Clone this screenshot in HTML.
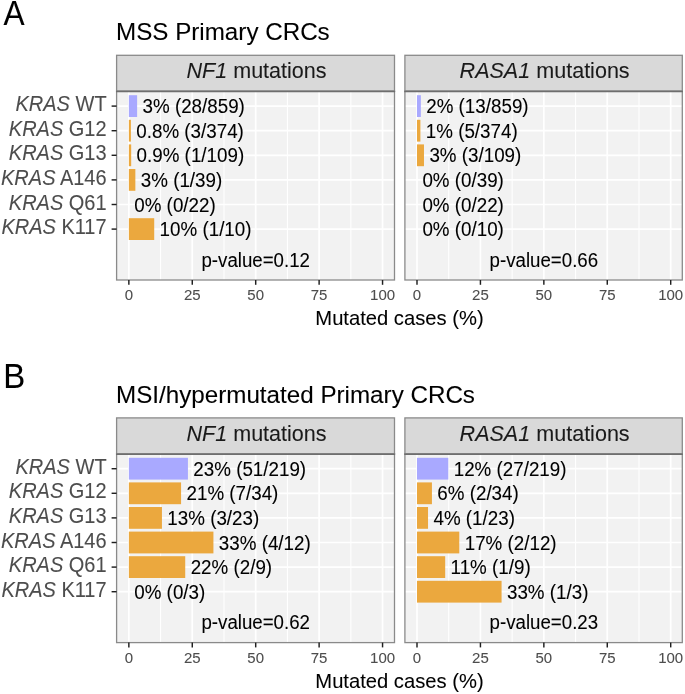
<!DOCTYPE html>
<html><head><meta charset="utf-8"><style>
html,body{margin:0;padding:0;background:#fff;}
svg{display:block;font-family:"Liberation Sans", sans-serif;will-change:transform;}
</style></head><body>
<svg width="685" height="694" viewBox="0 0 685 694">
<rect width="685" height="694" fill="#fff"/>
<text transform="translate(3.6,25.4) scale(0.930,1.020)" font-size="34.0" fill="#000" stroke="#000" stroke-width="0.08">A</text>
<text transform="translate(116,39.7) scale(1.000,1.020)" font-size="24.2" fill="#000" stroke="#000" stroke-width="0.08">MSS Primary CRCs</text>
<rect x="116.6" y="55.3" width="277.9" height="35.9" fill="#d9d9d9" stroke="#8a8a8a" stroke-width="1.3"/>
<text transform="translate(256.55,78)" font-size="21.55" text-anchor="middle" fill="#1a1a1a" stroke="#1a1a1a" stroke-width="0.08"><tspan font-style="italic">NF1</tspan> mutations</text>
<rect x="116.6" y="91.2" width="277.9" height="188.8" fill="#f2f2f2"/>
<line x1="160.56" y1="91.2" x2="160.56" y2="280" stroke="#ffffff" stroke-width="1.05"/>
<line x1="223.99" y1="91.2" x2="223.99" y2="280" stroke="#ffffff" stroke-width="1.05"/>
<line x1="287.41" y1="91.2" x2="287.41" y2="280" stroke="#ffffff" stroke-width="1.05"/>
<line x1="350.84" y1="91.2" x2="350.84" y2="280" stroke="#ffffff" stroke-width="1.05"/>
<line x1="128.85" y1="91.2" x2="128.85" y2="280" stroke="#ffffff" stroke-width="1.7"/>
<line x1="192.27" y1="91.2" x2="192.27" y2="280" stroke="#ffffff" stroke-width="1.7"/>
<line x1="255.7" y1="91.2" x2="255.7" y2="280" stroke="#ffffff" stroke-width="1.7"/>
<line x1="319.12" y1="91.2" x2="319.12" y2="280" stroke="#ffffff" stroke-width="1.7"/>
<line x1="382.55" y1="91.2" x2="382.55" y2="280" stroke="#ffffff" stroke-width="1.7"/>
<line x1="116.6" y1="106.1" x2="394.5" y2="106.1" stroke="#ffffff" stroke-width="1.7"/>
<line x1="116.6" y1="130.7" x2="394.5" y2="130.7" stroke="#ffffff" stroke-width="1.7"/>
<line x1="116.6" y1="155.3" x2="394.5" y2="155.3" stroke="#ffffff" stroke-width="1.7"/>
<line x1="116.6" y1="179.9" x2="394.5" y2="179.9" stroke="#ffffff" stroke-width="1.7"/>
<line x1="116.6" y1="204.5" x2="394.5" y2="204.5" stroke="#ffffff" stroke-width="1.7"/>
<line x1="116.6" y1="229.1" x2="394.5" y2="229.1" stroke="#ffffff" stroke-width="1.7"/>
<rect x="128.85" y="95.2" width="8.27" height="21.8" fill="#a9a9ff"/>
<text transform="translate(142.52,113.2) scale(1.000,1.060)" font-size="18.8" fill="#000" stroke="#000" stroke-width="0.08">3% (28/859)</text>
<rect x="128.85" y="119.8" width="2.04" height="21.8" fill="#eba83e"/>
<text transform="translate(136.29,137.8) scale(1.000,1.060)" font-size="18.8" fill="#000" stroke="#000" stroke-width="0.08">0.8% (3/374)</text>
<rect x="128.85" y="144.4" width="2.33" height="21.8" fill="#eba83e"/>
<text transform="translate(136.58,162.4) scale(1.000,1.060)" font-size="18.8" fill="#000" stroke="#000" stroke-width="0.08">0.9% (1/109)</text>
<rect x="128.85" y="169" width="6.51" height="21.8" fill="#eba83e"/>
<text transform="translate(140.76,187) scale(1.000,1.060)" font-size="18.8" fill="#000" stroke="#000" stroke-width="0.08">3% (1/39)</text>
<text transform="translate(134.25,211.6) scale(1.000,1.060)" font-size="18.8" fill="#000" stroke="#000" stroke-width="0.08">0% (0/22)</text>
<rect x="128.85" y="218.2" width="25.37" height="21.8" fill="#eba83e"/>
<text transform="translate(159.62,236.2) scale(1.000,1.060)" font-size="18.8" fill="#000" stroke="#000" stroke-width="0.08">10% (1/10)</text>
<text transform="translate(255.7,266.8) scale(1.000,1.060)" font-size="18.7" text-anchor="middle" fill="#000" stroke="#000" stroke-width="0.08">p-value=0.12</text>
<rect x="116.6" y="91.2" width="277.9" height="188.8" fill="none" stroke="#8a8a8a" stroke-width="1.3"/>
<line x1="116" y1="91.55" x2="395.1" y2="91.55" stroke="#6e6e6e" stroke-width="1.5"/>
<line x1="128.85" y1="280" x2="128.85" y2="284.8" stroke="#1f1f1f" stroke-width="1.45"/>
<text transform="translate(128.85,300.4) scale(1.000,1.020)" font-size="15.0" text-anchor="middle" fill="#4d4d4d" stroke="#4d4d4d" stroke-width="0.08">0</text>
<line x1="192.27" y1="280" x2="192.27" y2="284.8" stroke="#1f1f1f" stroke-width="1.45"/>
<text transform="translate(192.27,300.4) scale(1.000,1.020)" font-size="15.0" text-anchor="middle" fill="#4d4d4d" stroke="#4d4d4d" stroke-width="0.08">25</text>
<line x1="255.7" y1="280" x2="255.7" y2="284.8" stroke="#1f1f1f" stroke-width="1.45"/>
<text transform="translate(255.7,300.4) scale(1.000,1.020)" font-size="15.0" text-anchor="middle" fill="#4d4d4d" stroke="#4d4d4d" stroke-width="0.08">50</text>
<line x1="319.12" y1="280" x2="319.12" y2="284.8" stroke="#1f1f1f" stroke-width="1.45"/>
<text transform="translate(319.12,300.4) scale(1.000,1.020)" font-size="15.0" text-anchor="middle" fill="#4d4d4d" stroke="#4d4d4d" stroke-width="0.08">75</text>
<line x1="382.55" y1="280" x2="382.55" y2="284.8" stroke="#1f1f1f" stroke-width="1.45"/>
<text transform="translate(382.55,300.4) scale(1.000,1.020)" font-size="15.0" text-anchor="middle" fill="#4d4d4d" stroke="#4d4d4d" stroke-width="0.08">100</text>
<rect x="404.9" y="55.3" width="277.4" height="35.9" fill="#d9d9d9" stroke="#8a8a8a" stroke-width="1.3"/>
<text transform="translate(544.6,78)" font-size="21.55" text-anchor="middle" fill="#1a1a1a" stroke="#1a1a1a" stroke-width="0.08"><tspan font-style="italic">RASA1</tspan> mutations</text>
<rect x="404.9" y="91.2" width="277.4" height="188.8" fill="#f2f2f2"/>
<line x1="448.71" y1="91.2" x2="448.71" y2="280" stroke="#ffffff" stroke-width="1.05"/>
<line x1="512.14" y1="91.2" x2="512.14" y2="280" stroke="#ffffff" stroke-width="1.05"/>
<line x1="575.56" y1="91.2" x2="575.56" y2="280" stroke="#ffffff" stroke-width="1.05"/>
<line x1="638.99" y1="91.2" x2="638.99" y2="280" stroke="#ffffff" stroke-width="1.05"/>
<line x1="417" y1="91.2" x2="417" y2="280" stroke="#ffffff" stroke-width="1.7"/>
<line x1="480.43" y1="91.2" x2="480.43" y2="280" stroke="#ffffff" stroke-width="1.7"/>
<line x1="543.85" y1="91.2" x2="543.85" y2="280" stroke="#ffffff" stroke-width="1.7"/>
<line x1="607.27" y1="91.2" x2="607.27" y2="280" stroke="#ffffff" stroke-width="1.7"/>
<line x1="670.7" y1="91.2" x2="670.7" y2="280" stroke="#ffffff" stroke-width="1.7"/>
<line x1="404.9" y1="106.1" x2="682.3" y2="106.1" stroke="#ffffff" stroke-width="1.7"/>
<line x1="404.9" y1="130.7" x2="682.3" y2="130.7" stroke="#ffffff" stroke-width="1.7"/>
<line x1="404.9" y1="155.3" x2="682.3" y2="155.3" stroke="#ffffff" stroke-width="1.7"/>
<line x1="404.9" y1="179.9" x2="682.3" y2="179.9" stroke="#ffffff" stroke-width="1.7"/>
<line x1="404.9" y1="204.5" x2="682.3" y2="204.5" stroke="#ffffff" stroke-width="1.7"/>
<line x1="404.9" y1="229.1" x2="682.3" y2="229.1" stroke="#ffffff" stroke-width="1.7"/>
<rect x="417" y="95.2" width="3.84" height="21.8" fill="#a9a9ff"/>
<text transform="translate(426.24,113.2) scale(1.000,1.060)" font-size="18.8" fill="#000" stroke="#000" stroke-width="0.08">2% (13/859)</text>
<rect x="417" y="119.8" width="3.39" height="21.8" fill="#eba83e"/>
<text transform="translate(425.79,137.8) scale(1.000,1.060)" font-size="18.8" fill="#000" stroke="#000" stroke-width="0.08">1% (5/374)</text>
<rect x="417" y="144.4" width="6.98" height="21.8" fill="#eba83e"/>
<text transform="translate(429.38,162.4) scale(1.000,1.060)" font-size="18.8" fill="#000" stroke="#000" stroke-width="0.08">3% (3/109)</text>
<text transform="translate(422.4,187) scale(1.000,1.060)" font-size="18.8" fill="#000" stroke="#000" stroke-width="0.08">0% (0/39)</text>
<text transform="translate(422.4,211.6) scale(1.000,1.060)" font-size="18.8" fill="#000" stroke="#000" stroke-width="0.08">0% (0/22)</text>
<text transform="translate(422.4,236.2) scale(1.000,1.060)" font-size="18.8" fill="#000" stroke="#000" stroke-width="0.08">0% (0/10)</text>
<text transform="translate(543.85,266.8) scale(1.000,1.060)" font-size="18.7" text-anchor="middle" fill="#000" stroke="#000" stroke-width="0.08">p-value=0.66</text>
<rect x="404.9" y="91.2" width="277.4" height="188.8" fill="none" stroke="#8a8a8a" stroke-width="1.3"/>
<line x1="404.3" y1="91.55" x2="682.9" y2="91.55" stroke="#6e6e6e" stroke-width="1.5"/>
<line x1="417" y1="280" x2="417" y2="284.8" stroke="#1f1f1f" stroke-width="1.45"/>
<text transform="translate(417,300.4) scale(1.000,1.020)" font-size="15.0" text-anchor="middle" fill="#4d4d4d" stroke="#4d4d4d" stroke-width="0.08">0</text>
<line x1="480.43" y1="280" x2="480.43" y2="284.8" stroke="#1f1f1f" stroke-width="1.45"/>
<text transform="translate(480.43,300.4) scale(1.000,1.020)" font-size="15.0" text-anchor="middle" fill="#4d4d4d" stroke="#4d4d4d" stroke-width="0.08">25</text>
<line x1="543.85" y1="280" x2="543.85" y2="284.8" stroke="#1f1f1f" stroke-width="1.45"/>
<text transform="translate(543.85,300.4) scale(1.000,1.020)" font-size="15.0" text-anchor="middle" fill="#4d4d4d" stroke="#4d4d4d" stroke-width="0.08">50</text>
<line x1="607.27" y1="280" x2="607.27" y2="284.8" stroke="#1f1f1f" stroke-width="1.45"/>
<text transform="translate(607.27,300.4) scale(1.000,1.020)" font-size="15.0" text-anchor="middle" fill="#4d4d4d" stroke="#4d4d4d" stroke-width="0.08">75</text>
<line x1="670.7" y1="280" x2="670.7" y2="284.8" stroke="#1f1f1f" stroke-width="1.45"/>
<text transform="translate(670.7,300.4) scale(1.000,1.020)" font-size="15.0" text-anchor="middle" fill="#4d4d4d" stroke="#4d4d4d" stroke-width="0.08">100</text>
<line x1="111.6" y1="106.1" x2="116.6" y2="106.1" stroke="#1f1f1f" stroke-width="1.45"/>
<text transform="translate(106.6,111.2) scale(1.000,1.060)" font-size="20.0" text-anchor="end" fill="#4d4d4d" stroke="#4d4d4d" stroke-width="0.08"><tspan font-style="italic">KRAS</tspan> WT</text>
<line x1="111.6" y1="130.7" x2="116.6" y2="130.7" stroke="#1f1f1f" stroke-width="1.45"/>
<text transform="translate(106.6,135.8) scale(1.000,1.060)" font-size="20.0" text-anchor="end" fill="#4d4d4d" stroke="#4d4d4d" stroke-width="0.08"><tspan font-style="italic">KRAS</tspan> G12</text>
<line x1="111.6" y1="155.3" x2="116.6" y2="155.3" stroke="#1f1f1f" stroke-width="1.45"/>
<text transform="translate(106.6,160.4) scale(1.000,1.060)" font-size="20.0" text-anchor="end" fill="#4d4d4d" stroke="#4d4d4d" stroke-width="0.08"><tspan font-style="italic">KRAS</tspan> G13</text>
<line x1="111.6" y1="179.9" x2="116.6" y2="179.9" stroke="#1f1f1f" stroke-width="1.45"/>
<text transform="translate(106.6,185) scale(1.000,1.060)" font-size="20.0" text-anchor="end" fill="#4d4d4d" stroke="#4d4d4d" stroke-width="0.08"><tspan font-style="italic">KRAS</tspan> A146</text>
<line x1="111.6" y1="204.5" x2="116.6" y2="204.5" stroke="#1f1f1f" stroke-width="1.45"/>
<text transform="translate(106.6,209.6) scale(1.000,1.060)" font-size="20.0" text-anchor="end" fill="#4d4d4d" stroke="#4d4d4d" stroke-width="0.08"><tspan font-style="italic">KRAS</tspan> Q61</text>
<line x1="111.6" y1="229.1" x2="116.6" y2="229.1" stroke="#1f1f1f" stroke-width="1.45"/>
<text transform="translate(106.6,234.2) scale(1.000,1.060)" font-size="20.0" text-anchor="end" fill="#4d4d4d" stroke="#4d4d4d" stroke-width="0.08"><tspan font-style="italic">KRAS</tspan> K117</text>
<text transform="translate(399.45,324.7)" font-size="20.2" text-anchor="middle" fill="#000" stroke="#000" stroke-width="0.08">Mutated cases (%)</text>
<text transform="translate(3.2,387.55) scale(0.970,1.035)" font-size="34.0" fill="#000" stroke="#000" stroke-width="0.08">B</text>
<text transform="translate(116,402.9) scale(1.000,1.020)" font-size="24.2" fill="#000" stroke="#000" stroke-width="0.08">MSI/hypermutated Primary CRCs</text>
<rect x="116.6" y="417.9" width="277.9" height="35.9" fill="#d9d9d9" stroke="#8a8a8a" stroke-width="1.3"/>
<text transform="translate(256.55,440.6)" font-size="21.55" text-anchor="middle" fill="#1a1a1a" stroke="#1a1a1a" stroke-width="0.08"><tspan font-style="italic">NF1</tspan> mutations</text>
<rect x="116.6" y="453.8" width="277.9" height="188.8" fill="#f2f2f2"/>
<line x1="160.56" y1="453.8" x2="160.56" y2="642.6" stroke="#ffffff" stroke-width="1.05"/>
<line x1="223.99" y1="453.8" x2="223.99" y2="642.6" stroke="#ffffff" stroke-width="1.05"/>
<line x1="287.41" y1="453.8" x2="287.41" y2="642.6" stroke="#ffffff" stroke-width="1.05"/>
<line x1="350.84" y1="453.8" x2="350.84" y2="642.6" stroke="#ffffff" stroke-width="1.05"/>
<line x1="128.85" y1="453.8" x2="128.85" y2="642.6" stroke="#ffffff" stroke-width="1.7"/>
<line x1="192.27" y1="453.8" x2="192.27" y2="642.6" stroke="#ffffff" stroke-width="1.7"/>
<line x1="255.7" y1="453.8" x2="255.7" y2="642.6" stroke="#ffffff" stroke-width="1.7"/>
<line x1="319.12" y1="453.8" x2="319.12" y2="642.6" stroke="#ffffff" stroke-width="1.7"/>
<line x1="382.55" y1="453.8" x2="382.55" y2="642.6" stroke="#ffffff" stroke-width="1.7"/>
<line x1="116.6" y1="468.7" x2="394.5" y2="468.7" stroke="#ffffff" stroke-width="1.7"/>
<line x1="116.6" y1="493.3" x2="394.5" y2="493.3" stroke="#ffffff" stroke-width="1.7"/>
<line x1="116.6" y1="517.9" x2="394.5" y2="517.9" stroke="#ffffff" stroke-width="1.7"/>
<line x1="116.6" y1="542.5" x2="394.5" y2="542.5" stroke="#ffffff" stroke-width="1.7"/>
<line x1="116.6" y1="567.1" x2="394.5" y2="567.1" stroke="#ffffff" stroke-width="1.7"/>
<line x1="116.6" y1="591.7" x2="394.5" y2="591.7" stroke="#ffffff" stroke-width="1.7"/>
<rect x="128.85" y="457.8" width="59.08" height="21.8" fill="#a9a9ff"/>
<text transform="translate(193.33,475.8) scale(1.000,1.060)" font-size="18.8" fill="#000" stroke="#000" stroke-width="0.08">23% (51/219)</text>
<rect x="128.85" y="482.4" width="52.23" height="21.8" fill="#eba83e"/>
<text transform="translate(186.48,500.4) scale(1.000,1.060)" font-size="18.8" fill="#000" stroke="#000" stroke-width="0.08">21% (7/34)</text>
<rect x="128.85" y="507" width="33.09" height="21.8" fill="#eba83e"/>
<text transform="translate(167.34,525) scale(1.000,1.060)" font-size="18.8" fill="#000" stroke="#000" stroke-width="0.08">13% (3/23)</text>
<rect x="128.85" y="531.6" width="84.57" height="21.8" fill="#eba83e"/>
<text transform="translate(218.82,549.6) scale(1.000,1.060)" font-size="18.8" fill="#000" stroke="#000" stroke-width="0.08">33% (4/12)</text>
<rect x="128.85" y="556.2" width="56.38" height="21.8" fill="#eba83e"/>
<text transform="translate(190.63,574.2) scale(1.000,1.060)" font-size="18.8" fill="#000" stroke="#000" stroke-width="0.08">22% (2/9)</text>
<text transform="translate(134.25,598.8) scale(1.000,1.060)" font-size="18.8" fill="#000" stroke="#000" stroke-width="0.08">0% (0/3)</text>
<text transform="translate(255.7,629.4) scale(1.000,1.060)" font-size="18.7" text-anchor="middle" fill="#000" stroke="#000" stroke-width="0.08">p-value=0.62</text>
<rect x="116.6" y="453.8" width="277.9" height="188.8" fill="none" stroke="#8a8a8a" stroke-width="1.3"/>
<line x1="116" y1="454.15" x2="395.1" y2="454.15" stroke="#6e6e6e" stroke-width="1.5"/>
<line x1="128.85" y1="642.6" x2="128.85" y2="647.4" stroke="#1f1f1f" stroke-width="1.45"/>
<text transform="translate(128.85,663) scale(1.000,1.020)" font-size="15.0" text-anchor="middle" fill="#4d4d4d" stroke="#4d4d4d" stroke-width="0.08">0</text>
<line x1="192.27" y1="642.6" x2="192.27" y2="647.4" stroke="#1f1f1f" stroke-width="1.45"/>
<text transform="translate(192.27,663) scale(1.000,1.020)" font-size="15.0" text-anchor="middle" fill="#4d4d4d" stroke="#4d4d4d" stroke-width="0.08">25</text>
<line x1="255.7" y1="642.6" x2="255.7" y2="647.4" stroke="#1f1f1f" stroke-width="1.45"/>
<text transform="translate(255.7,663) scale(1.000,1.020)" font-size="15.0" text-anchor="middle" fill="#4d4d4d" stroke="#4d4d4d" stroke-width="0.08">50</text>
<line x1="319.12" y1="642.6" x2="319.12" y2="647.4" stroke="#1f1f1f" stroke-width="1.45"/>
<text transform="translate(319.12,663) scale(1.000,1.020)" font-size="15.0" text-anchor="middle" fill="#4d4d4d" stroke="#4d4d4d" stroke-width="0.08">75</text>
<line x1="382.55" y1="642.6" x2="382.55" y2="647.4" stroke="#1f1f1f" stroke-width="1.45"/>
<text transform="translate(382.55,663) scale(1.000,1.020)" font-size="15.0" text-anchor="middle" fill="#4d4d4d" stroke="#4d4d4d" stroke-width="0.08">100</text>
<rect x="404.9" y="417.9" width="277.4" height="35.9" fill="#d9d9d9" stroke="#8a8a8a" stroke-width="1.3"/>
<text transform="translate(544.6,440.6)" font-size="21.55" text-anchor="middle" fill="#1a1a1a" stroke="#1a1a1a" stroke-width="0.08"><tspan font-style="italic">RASA1</tspan> mutations</text>
<rect x="404.9" y="453.8" width="277.4" height="188.8" fill="#f2f2f2"/>
<line x1="448.71" y1="453.8" x2="448.71" y2="642.6" stroke="#ffffff" stroke-width="1.05"/>
<line x1="512.14" y1="453.8" x2="512.14" y2="642.6" stroke="#ffffff" stroke-width="1.05"/>
<line x1="575.56" y1="453.8" x2="575.56" y2="642.6" stroke="#ffffff" stroke-width="1.05"/>
<line x1="638.99" y1="453.8" x2="638.99" y2="642.6" stroke="#ffffff" stroke-width="1.05"/>
<line x1="417" y1="453.8" x2="417" y2="642.6" stroke="#ffffff" stroke-width="1.7"/>
<line x1="480.43" y1="453.8" x2="480.43" y2="642.6" stroke="#ffffff" stroke-width="1.7"/>
<line x1="543.85" y1="453.8" x2="543.85" y2="642.6" stroke="#ffffff" stroke-width="1.7"/>
<line x1="607.27" y1="453.8" x2="607.27" y2="642.6" stroke="#ffffff" stroke-width="1.7"/>
<line x1="670.7" y1="453.8" x2="670.7" y2="642.6" stroke="#ffffff" stroke-width="1.7"/>
<line x1="404.9" y1="468.7" x2="682.3" y2="468.7" stroke="#ffffff" stroke-width="1.7"/>
<line x1="404.9" y1="493.3" x2="682.3" y2="493.3" stroke="#ffffff" stroke-width="1.7"/>
<line x1="404.9" y1="517.9" x2="682.3" y2="517.9" stroke="#ffffff" stroke-width="1.7"/>
<line x1="404.9" y1="542.5" x2="682.3" y2="542.5" stroke="#ffffff" stroke-width="1.7"/>
<line x1="404.9" y1="567.1" x2="682.3" y2="567.1" stroke="#ffffff" stroke-width="1.7"/>
<line x1="404.9" y1="591.7" x2="682.3" y2="591.7" stroke="#ffffff" stroke-width="1.7"/>
<rect x="417" y="457.8" width="31.28" height="21.8" fill="#a9a9ff"/>
<text transform="translate(453.68,475.8) scale(1.000,1.060)" font-size="18.8" fill="#000" stroke="#000" stroke-width="0.08">12% (27/219)</text>
<rect x="417" y="482.4" width="14.92" height="21.8" fill="#eba83e"/>
<text transform="translate(437.32,500.4) scale(1.000,1.060)" font-size="18.8" fill="#000" stroke="#000" stroke-width="0.08">6% (2/34)</text>
<rect x="417" y="507" width="11.03" height="21.8" fill="#eba83e"/>
<text transform="translate(433.43,525) scale(1.000,1.060)" font-size="18.8" fill="#000" stroke="#000" stroke-width="0.08">4% (1/23)</text>
<rect x="417" y="531.6" width="42.28" height="21.8" fill="#eba83e"/>
<text transform="translate(464.68,549.6) scale(1.000,1.060)" font-size="18.8" fill="#000" stroke="#000" stroke-width="0.08">17% (2/12)</text>
<rect x="417" y="556.2" width="28.19" height="21.8" fill="#eba83e"/>
<text transform="translate(450.59,574.2) scale(1.000,1.060)" font-size="18.8" fill="#000" stroke="#000" stroke-width="0.08">11% (1/9)</text>
<rect x="417" y="580.8" width="84.57" height="21.8" fill="#eba83e"/>
<text transform="translate(506.97,598.8) scale(1.000,1.060)" font-size="18.8" fill="#000" stroke="#000" stroke-width="0.08">33% (1/3)</text>
<text transform="translate(543.85,629.4) scale(1.000,1.060)" font-size="18.7" text-anchor="middle" fill="#000" stroke="#000" stroke-width="0.08">p-value=0.23</text>
<rect x="404.9" y="453.8" width="277.4" height="188.8" fill="none" stroke="#8a8a8a" stroke-width="1.3"/>
<line x1="404.3" y1="454.15" x2="682.9" y2="454.15" stroke="#6e6e6e" stroke-width="1.5"/>
<line x1="417" y1="642.6" x2="417" y2="647.4" stroke="#1f1f1f" stroke-width="1.45"/>
<text transform="translate(417,663) scale(1.000,1.020)" font-size="15.0" text-anchor="middle" fill="#4d4d4d" stroke="#4d4d4d" stroke-width="0.08">0</text>
<line x1="480.43" y1="642.6" x2="480.43" y2="647.4" stroke="#1f1f1f" stroke-width="1.45"/>
<text transform="translate(480.43,663) scale(1.000,1.020)" font-size="15.0" text-anchor="middle" fill="#4d4d4d" stroke="#4d4d4d" stroke-width="0.08">25</text>
<line x1="543.85" y1="642.6" x2="543.85" y2="647.4" stroke="#1f1f1f" stroke-width="1.45"/>
<text transform="translate(543.85,663) scale(1.000,1.020)" font-size="15.0" text-anchor="middle" fill="#4d4d4d" stroke="#4d4d4d" stroke-width="0.08">50</text>
<line x1="607.27" y1="642.6" x2="607.27" y2="647.4" stroke="#1f1f1f" stroke-width="1.45"/>
<text transform="translate(607.27,663) scale(1.000,1.020)" font-size="15.0" text-anchor="middle" fill="#4d4d4d" stroke="#4d4d4d" stroke-width="0.08">75</text>
<line x1="670.7" y1="642.6" x2="670.7" y2="647.4" stroke="#1f1f1f" stroke-width="1.45"/>
<text transform="translate(670.7,663) scale(1.000,1.020)" font-size="15.0" text-anchor="middle" fill="#4d4d4d" stroke="#4d4d4d" stroke-width="0.08">100</text>
<line x1="111.6" y1="468.7" x2="116.6" y2="468.7" stroke="#1f1f1f" stroke-width="1.45"/>
<text transform="translate(106.6,473.8) scale(1.000,1.060)" font-size="20.0" text-anchor="end" fill="#4d4d4d" stroke="#4d4d4d" stroke-width="0.08"><tspan font-style="italic">KRAS</tspan> WT</text>
<line x1="111.6" y1="493.3" x2="116.6" y2="493.3" stroke="#1f1f1f" stroke-width="1.45"/>
<text transform="translate(106.6,498.4) scale(1.000,1.060)" font-size="20.0" text-anchor="end" fill="#4d4d4d" stroke="#4d4d4d" stroke-width="0.08"><tspan font-style="italic">KRAS</tspan> G12</text>
<line x1="111.6" y1="517.9" x2="116.6" y2="517.9" stroke="#1f1f1f" stroke-width="1.45"/>
<text transform="translate(106.6,523) scale(1.000,1.060)" font-size="20.0" text-anchor="end" fill="#4d4d4d" stroke="#4d4d4d" stroke-width="0.08"><tspan font-style="italic">KRAS</tspan> G13</text>
<line x1="111.6" y1="542.5" x2="116.6" y2="542.5" stroke="#1f1f1f" stroke-width="1.45"/>
<text transform="translate(106.6,547.6) scale(1.000,1.060)" font-size="20.0" text-anchor="end" fill="#4d4d4d" stroke="#4d4d4d" stroke-width="0.08"><tspan font-style="italic">KRAS</tspan> A146</text>
<line x1="111.6" y1="567.1" x2="116.6" y2="567.1" stroke="#1f1f1f" stroke-width="1.45"/>
<text transform="translate(106.6,572.2) scale(1.000,1.060)" font-size="20.0" text-anchor="end" fill="#4d4d4d" stroke="#4d4d4d" stroke-width="0.08"><tspan font-style="italic">KRAS</tspan> Q61</text>
<line x1="111.6" y1="591.7" x2="116.6" y2="591.7" stroke="#1f1f1f" stroke-width="1.45"/>
<text transform="translate(106.6,596.8) scale(1.000,1.060)" font-size="20.0" text-anchor="end" fill="#4d4d4d" stroke="#4d4d4d" stroke-width="0.08"><tspan font-style="italic">KRAS</tspan> K117</text>
<text transform="translate(399.45,688.1)" font-size="20.2" text-anchor="middle" fill="#000" stroke="#000" stroke-width="0.08">Mutated cases (%)</text>
</svg>
</body></html>
